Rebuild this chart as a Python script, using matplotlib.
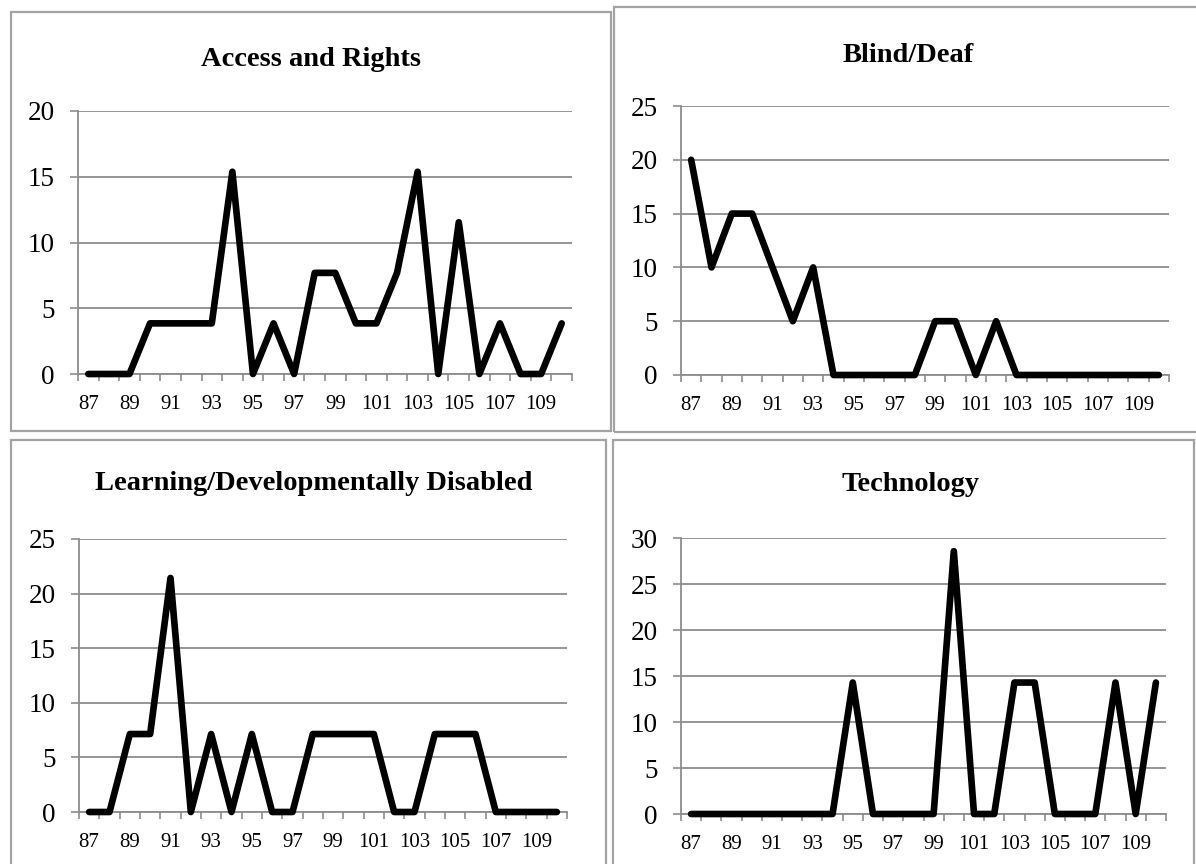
import matplotlib
matplotlib.use("Agg")
import matplotlib.pyplot as plt
from matplotlib.patches import Rectangle
from matplotlib.ticker import FixedLocator, MultipleLocator

W, H = 1196, 864

years = list(range(87, 111))
tick_years = years[::2]

access_rights = [0, 0, 0, 3.85, 3.85, 3.85, 3.85, 15.38, 0, 3.85, 0, 7.69,
                 7.69, 3.85, 3.85, 7.69, 15.38, 0, 11.54, 0, 3.85, 0, 0, 3.85]
blind_deaf = [20, 10, 15, 15, 10, 5, 10, 0, 0, 0, 0, 0,
              5, 5, 0, 5, 0, 0, 0, 0, 0, 0, 0, 0]
learning = [0, 0, 7.14, 7.14, 21.43, 0, 7.14, 0, 7.14, 0, 0, 7.14,
            7.14, 7.14, 7.14, 0, 0, 7.14, 7.14, 7.14, 0, 0, 0, 0]
technology = [0, 0, 0, 0, 0, 0, 0, 0, 14.29, 0, 0, 0,
              0, 28.57, 0, 0, 14.29, 14.29, 0, 0, 0, 14.29, 0, 14.29]

titles = ["Access and Rights", "Blind/Deaf",
          "Learning/Developmentally Disabled", "Technology"]
series = [access_rights, blind_deaf, learning, technology]
y_max = [20, 25, 25, 30]

# pixel layout: plot box, panel box, title centre
plot_boxes = [(78, 111, 572, 374), (681, 106, 1169, 375),
              (79, 539, 567, 812), (681, 538, 1166, 814)]
panel_boxes = [(11, 12, 611, 431), (614, 7, 1210, 432),
               (11, 440, 606, 880), (613, 440, 1194, 880)]
title_pos = [(311, 59), (908, 55), (314, 483), (910, 484)]

GRID = "#8c8c8c"
BORDER = "#a3a3a3"

plt.rcParams["font.family"] = ["Liberation Serif", "DejaVu Serif"]

fig = plt.figure(figsize=(W / 100, H / 100), dpi=100)
fig.patch.set_facecolor("white")


def to_fig(x0, y0, x1, y1):
    return [x0 / W, 1 - y1 / H, (x1 - x0) / W, (y1 - y0) / H]


# panel frames
for (x0, y0, x1, y1) in panel_boxes:
    l, b, w, h = to_fig(x0, y0, x1, y1)
    fig.patches.append(Rectangle((l, b), w, h, transform=fig.transFigure,
                                 fill=False, edgecolor=BORDER, linewidth=1.6))

for i in range(4):
    ax = fig.add_axes(to_fig(*plot_boxes[i]))
    ax.plot(years, series[i], color="black", linewidth=4.8,
            solid_joinstyle="round", solid_capstyle="round", zorder=3,
            clip_on=False)
    ax.set_xlim(years[0] - 0.5, years[-1] + 0.5)
    ax.set_ylim(0, y_max[i])

    ax.yaxis.set_major_locator(MultipleLocator(5))
    ax.grid(axis="y", color=GRID, linewidth=1.3)
    ax.set_axisbelow(True)

    ax.xaxis.set_major_locator(FixedLocator(tick_years))
    ax.set_xticklabels([str(y) for y in tick_years])
    ax.xaxis.set_minor_locator(FixedLocator([y - 0.5 for y in years] + [years[-1] + 0.5]))
    ax.tick_params(axis="x", which="major", length=0, pad=15, labelsize=15)
    ax.tick_params(axis="x", which="minor", length=5, width=1.2, color=GRID,
                   direction="out")
    ax.tick_params(axis="y", length=6, width=1.2, color=GRID, pad=11,
                   labelsize=19.5)

    for s in ["top", "right"]:
        ax.spines[s].set_visible(False)
    for s in ["left", "bottom"]:
        ax.spines[s].set_color(GRID)
        ax.spines[s].set_linewidth(1.3)

    tx, ty = title_pos[i]
    fig.text(tx / W, 1 - ty / H, titles[i], ha="center", va="center",
             fontsize=20.5, fontweight="bold")

fig.savefig("out.png", dpi=100, facecolor="white")
